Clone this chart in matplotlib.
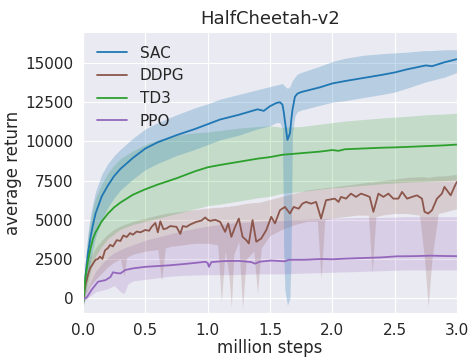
import matplotlib
matplotlib.use('Agg')
import matplotlib.pyplot as plt
import seaborn as sns
import numpy as np

sns.set_style('darkgrid')
plt.rcParams['font.family'] = ['DejaVu Sans']

# SAC (million steps, mean, upper, lower)
sac_t = [0, 0.02, 0.04, 0.06, 0.08, 0.1, 0.15, 0.2, 0.25, 0.3, 0.4, 0.5, 0.6, 0.75, 0.9,
         1.0, 1.1, 1.25, 1.4, 1.45, 1.5, 1.55, 1.58, 1.6, 1.61, 1.62, 1.64, 1.66, 1.67, 1.68,
         1.7, 1.72, 1.75, 1.9, 2.0, 2.1, 2.25, 2.4, 2.5, 2.6, 2.75, 2.8, 2.9, 3.0]
sac_mean = [-300, 1500, 2900, 3900, 4700, 5400, 6500, 7200, 7800, 8250, 8950, 9550, 9950, 10400, 10800,
            11100, 11400, 11700, 12050, 11950, 12250, 12450, 12500, 12350, 11900, 11300, 10100, 10500, 11300, 12000,
            12850, 13050, 13150, 13450, 13700, 13850, 14050, 14250, 14400, 14600, 14850, 14800, 15050, 15250]
sac_hi = [0, 2500, 4200, 5300, 6100, 6800, 7900, 8600, 9100, 9500, 10200, 10800, 11200, 11700, 12150,
          12400, 12700, 13000, 13300, 13400, 13500, 13600, 13650, 13700, 13600, 13500, 13400, 13500, 13700, 13900,
          14100, 14300, 14400, 14800, 15100, 15300, 15500, 15600, 15650, 15700, 15800, 15800, 15850, 15850]
sac_lo = [-600, 500, 1500, 2400, 3200, 3900, 5000, 5800, 6400, 6900, 7600, 8200, 8600, 9100, 9500,
          9800, 10100, 10400, 10800, 10900, 11000, 11200, 11200, 10800, 3000, 500, -450, 0, 3000, 10500,
          11600, 11900, 12000, 12300, 12500, 12600, 12800, 13000, 13150, 13400, 13800, 13900, 14100, 14400]

# TD3
td3_t = [0, 0.01, 0.02, 0.04, 0.06, 0.08, 0.1, 0.15, 0.2, 0.25, 0.3, 0.4, 0.5, 0.6, 0.75, 0.9,
         1.0, 1.1, 1.25, 1.4, 1.5, 1.6, 1.75, 1.9, 2.0, 2.05, 2.1, 2.25, 2.4, 2.5, 2.6, 2.75, 2.9, 3.0]
td3_mean = [-400, 600, 1400, 2400, 3200, 3800, 4200, 4900, 5400, 5800, 6100, 6600, 6950, 7250, 7650, 8100,
            8350, 8500, 8700, 8900, 9000, 9150, 9250, 9350, 9450, 9400, 9500, 9550, 9600, 9620, 9650, 9700, 9750, 9800]
td3_hi = [0, 1500, 2500, 4000, 5000, 5800, 6400, 7300, 8000, 8500, 8900, 9400, 9800, 10100, 10400, 10550,
          10600, 10700, 10850, 10950, 11000, 10900, 10950, 11100, 11200, 11250, 11300, 11400, 11500, 11550, 11600, 11700, 11750, 11800]
td3_lo = [-800, -200, 300, 1000, 1700, 2300, 2700, 3300, 3800, 4100, 4400, 4700, 4900, 5100, 5400, 5700,
          5900, 6000, 6200, 6400, 6500, 6700, 6800, 6950, 7050, 7050, 7100, 7200, 7300, 7350, 7400, 7450, 7500, 7550]

# DDPG
ddpg_t = [0, 0.02, 0.04, 0.056, 0.08, 0.1, 0.12, 0.136, 0.155, 0.176, 0.2, 0.217, 0.24, 0.27, 0.3,
          0.323, 0.35, 0.377, 0.4, 0.43, 0.46, 0.5, 0.53, 0.55, 0.58, 0.6, 0.62, 0.645, 0.67, 0.7,
          0.75, 0.78, 0.8, 0.83, 0.86, 0.91, 0.95, 0.98, 1.0, 1.02, 1.06, 1.1, 1.14, 1.165, 1.19,
          1.22, 1.25, 1.28, 1.31, 1.33, 1.36, 1.39, 1.43, 1.47, 1.51, 1.54, 1.58, 1.62, 1.66, 1.69,
          1.73, 1.76, 1.79, 1.83, 1.87, 1.91, 1.95, 1.98, 2.02, 2.05, 2.07, 2.11, 2.15, 2.19, 2.23,
          2.27, 2.3, 2.33, 2.37, 2.41, 2.45, 2.49, 2.53, 2.56, 2.6, 2.64, 2.68, 2.72, 2.74, 2.77,
          2.8, 2.84, 2.88, 2.9, 2.95, 2.98, 3.0]
ddpg_mean = [-200, 900, 1500, 1900, 2200, 2450, 2500, 2650, 2500, 3050, 3200, 3400, 3300, 3700, 3650,
             4000, 3900, 4150, 4050, 4250, 4200, 4350, 4300, 4550, 4800, 4200, 4900, 4400, 4450, 4600,
             4550, 4100, 4600, 4550, 4700, 4870, 4950, 5150, 5000, 4930, 5000, 4870, 4230, 4770, 3910,
             4550, 5080, 3910, 3700, 3490, 4980, 3600, 3810, 4340, 5190, 4770, 5610, 5820, 5400, 5820,
             5710, 6030, 6140, 6030, 6140, 5080, 6250, 6290, 6350, 6140, 6460, 6350, 6670, 6460, 6670,
             6560, 6460, 5510, 6670, 6460, 6670, 6350, 6350, 6780, 6350, 6460, 6560, 6350, 5510, 5400,
             5610, 6350, 6670, 7100, 6560, 7100, 7420]
ddpg_band_t = [0, 0.02, 0.05, 0.1, 0.15, 0.2, 0.25, 0.3, 0.33, 0.35, 0.4, 0.5, 0.6, 0.63, 0.66, 0.7,
               0.8, 0.9, 1.0, 1.08, 1.11, 1.14, 1.17, 1.19, 1.21, 1.25, 1.26, 1.28, 1.31, 1.37, 1.40,
               1.43, 1.5, 1.6, 1.7, 1.8, 1.88, 1.91, 1.94, 2.0, 2.1, 2.2, 2.29, 2.32, 2.35, 2.4, 2.5,
               2.6, 2.7, 2.74, 2.77, 2.8, 2.85, 2.9, 3.0]
ddpg_hi = [0, 1600, 2500, 3200, 3700, 4100, 4400, 4600, 4700, 4750, 4900, 5100, 5300, 5350, 5400, 5450,
           5550, 5650, 5750, 5800, 5800, 5850, 5850, 5900, 5900, 5950, 5980, 6000, 6050, 6100, 6100,
           6150, 6300, 6500, 6700, 6900, 7000, 7000, 7050, 7100, 7200, 7300, 7400, 7400, 7450, 7500, 7600,
           7700, 7750, 7750, 7700, 7750, 7800, 7800, 7900]
ddpg_lo = [-500, 200, 700, 1200, 1600, 2000, 2300, 2500, 1400, 2600, 2800, 3000, 3100, 1100, 3200, 3300,
           3400, 3500, 3500, 3400, -250, 3000, 1500, -600, 2800, 3600, 2000, -640, 2500, 3000, 300,
           3200, 4000, 4400, 4700, 4900, 4900, 1200, 5000, 5100, 5200, 5300, 5300, 1600, 5200, 5300, 5400,
           5400, 5300, 2500, -550, 2500, 5400, 5500, 5700]

# PPO
ppo_t = [0, 0.02, 0.03, 0.05, 0.07, 0.1, 0.12, 0.15, 0.18, 0.2, 0.22, 0.24, 0.27, 0.3, 0.34, 0.4,
         0.5, 0.6, 0.7, 0.8, 0.9, 0.98, 1.0, 1.01, 1.03, 1.14, 1.25, 1.35, 1.38, 1.42, 1.51, 1.62,
         1.65, 1.78, 1.91, 2.0, 2.1, 2.24, 2.39, 2.52, 2.65, 2.79, 2.9, 3.0]
ppo_mean = [0, 0, 50, 300, 550, 850, 1050, 1100, 1150, 1250, 1350, 1650, 1600, 1580, 1800, 1900,
            2000, 2050, 2100, 2170, 2250, 2320, 2250, 2000, 2300, 2370, 2380, 2300, 2200, 2330, 2400, 2350,
            2450, 2450, 2500, 2480, 2520, 2560, 2600, 2670, 2680, 2710, 2690, 2680]
ppo_band_t = [0, 0.05, 0.1, 0.15, 0.2, 0.25, 0.3, 0.33, 0.36, 0.4, 0.5, 0.6, 0.7, 0.8, 1.0, 1.2,
              1.4, 1.6, 1.8, 2.0, 2.2, 2.4, 2.6, 2.8, 3.0]
ppo_hi = [100, 900, 1700, 2200, 2600, 2900, 3100, 3200, 3300, 3400, 3700, 3900, 4100, 4300, 4600, 4800,
          4900, 5000, 5050, 5100, 5150, 5150, 5200, 5200, 5200]
ppo_lo = [-300, 100, 400, 500, 600, 800, 400, 300, 900, 1100, 1200, 1300, 1400, 1450, 1500, 1500,
          1550, 1550, 1600, 1650, 1700, 1750, 1800, 1800, 1800]

fig = plt.figure(figsize=(4.72, 3.6), dpi=100)
ax = fig.add_axes([0.176, 0.13, 0.792, 0.781])

ax.fill_between(ppo_band_t, ppo_lo, ppo_hi, color='C4', alpha=0.2, lw=0)
ax.fill_between(ddpg_band_t, ddpg_lo, ddpg_hi, color='C5', alpha=0.2, lw=0)
ax.fill_between(td3_t, td3_lo, td3_hi, color='C2', alpha=0.2, lw=0)
ax.fill_between(sac_t, sac_lo, sac_hi, color='C0', alpha=0.25, lw=0)

ax.plot(sac_t, sac_mean, color='C0', lw=1.3, label='SAC')
ax.plot(ddpg_t, ddpg_mean, color='C5', lw=1.3, label='DDPG')
ax.plot(td3_t, td3_mean, color='C2', lw=1.3, label='TD3')
ax.plot(ppo_t, ppo_mean, color='C4', lw=1.3, label='PPO')

ax.set_xlim(0, 3.0)
ax.set_ylim(-960, 16980)
ax.set_xticks([0, 0.5, 1.0, 1.5, 2.0, 2.5, 3.0])
ax.set_yticks([0, 2500, 5000, 7500, 10000, 12500, 15000])
ax.tick_params(labelsize=11)
ax.set_xlabel('million steps', fontsize=12, labelpad=1)
ax.set_ylabel('average return', fontsize=12, labelpad=2)
ax.set_title('HalfCheetah-v2', fontsize=13)
ax.legend(loc='upper left', fontsize=11, frameon=False)

fig.savefig('out.png', dpi=100)
